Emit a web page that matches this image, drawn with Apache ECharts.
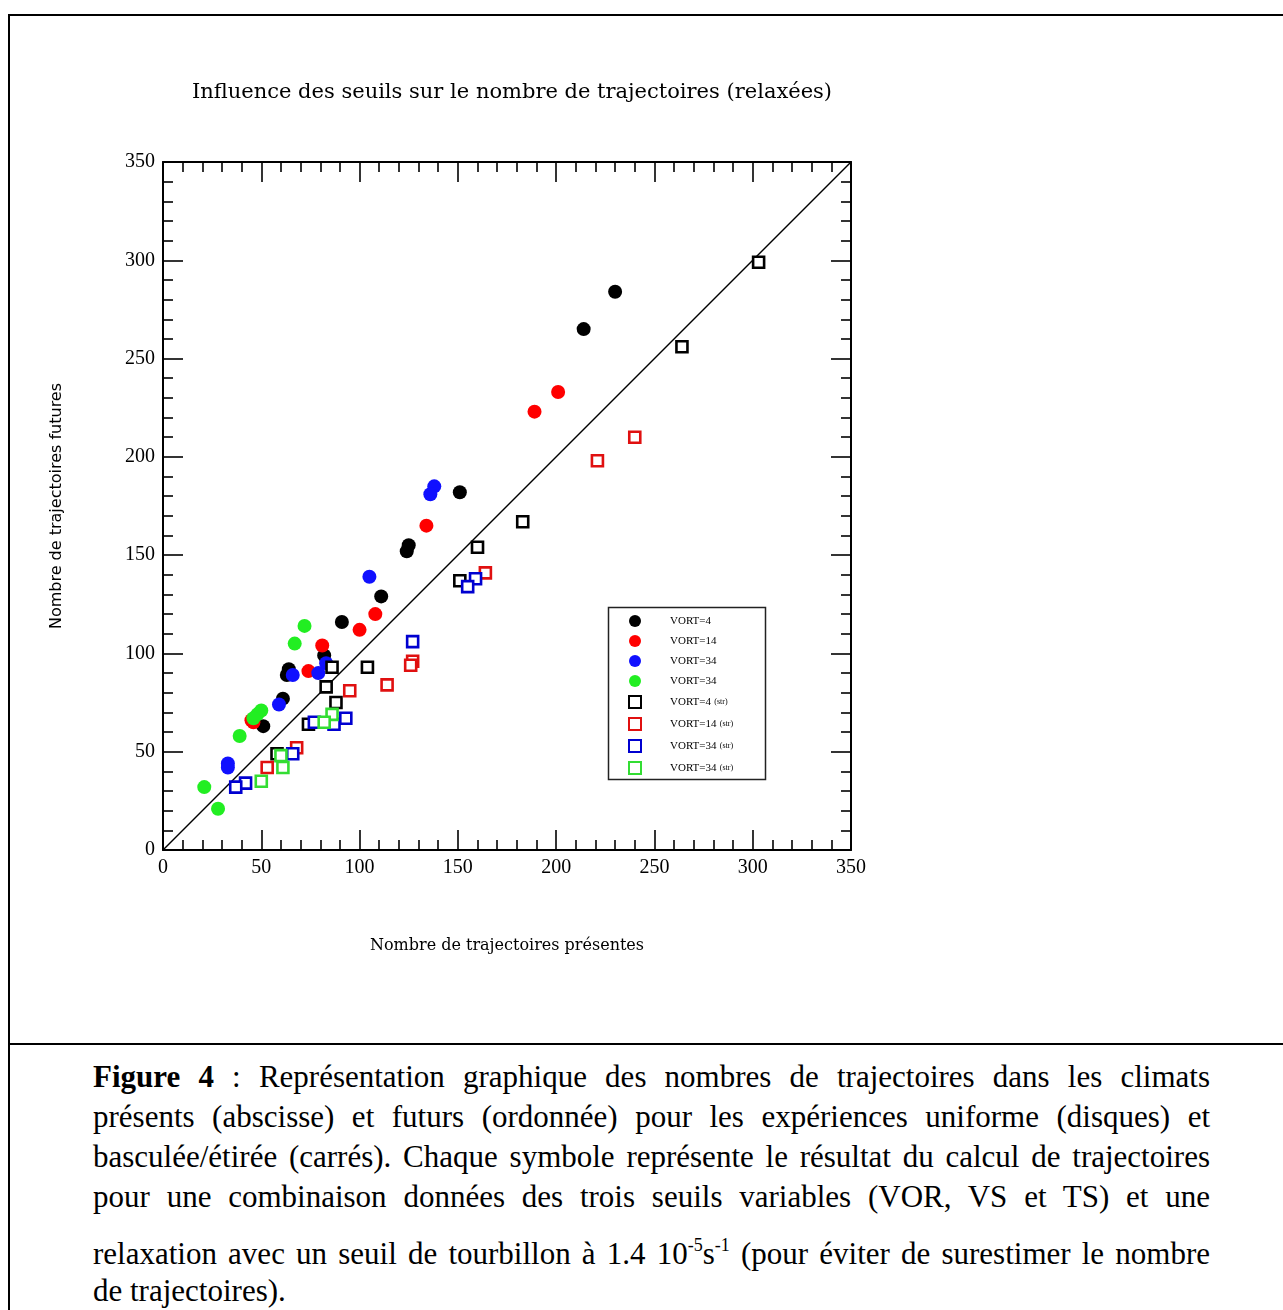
<!DOCTYPE html>
<html>
<head>
<meta charset="utf-8">
<script src="https://cdn.jsdelivr.net/npm/echarts@6/dist/echarts.min.js"></script>
<style>
  html, body { margin: 0; padding: 0; background: #fff; }
  body { width: 1283px; height: 1310px; position: relative; overflow: hidden; }
  #frame { position: absolute; left: 8px; top: 14px; width: 1275px; height: 1296px;
           border-left: 2px solid #000; border-top: 2px solid #000; box-sizing: border-box; }
  #sep { position: absolute; left: 8px; top: 1043px; width: 1275px; height: 2px; background: #000; }
  #chart { position: absolute; left: 0; top: 0; width: 1283px; height: 1040px; }
  .cap { position: absolute; left: 93px; width: 1117px; font-family: "Liberation Serif", "Times New Roman", serif;
         font-size: 31px; line-height: 31px; color: #000; text-align: justify; text-align-last: justify; }
  .cap.last { text-align-last: left; }
  .cap sup { font-size: 18px; line-height: 0; vertical-align: 0; position: relative; top: -13px; }
</style>
</head>
<body>
<div id="frame"></div>
<div id="sep"></div>
<div id="chart"></div>
<div class="cap" style="top:1061px"><b>Figure 4</b> : Représentation graphique des nombres de trajectoires dans les climats</div>
<div class="cap" style="top:1101px">présents (abscisse) et futurs (ordonnée) pour les expériences uniforme (disques) et</div>
<div class="cap" style="top:1141px">basculée/étirée (carrés). Chaque symbole représente le résultat du calcul de trajectoires</div>
<div class="cap" style="top:1181px">pour une combinaison données des trois seuils variables (VOR, VS et TS) et une</div>
<div class="cap" style="top:1238px">relaxation avec un seuil de tourbillon à 1.4 10<sup>-5</sup>s<sup>-1</sup> (pour éviter de surestimer le nombre</div>
<div class="cap last" style="top:1275px">de trajectoires).</div>
<script>
// ---- data (x = present, y = future) ----
const titleText = 'Influence des seuils sur le nombre de trajectoires (relaxées)';
const xAxisName = 'Nombre de trajectoires présentes';
const yAxisName = 'Nombre de trajectoires futures';
const tickValues = [0, 50, 100, 150, 200, 250, 300, 350];

const legendLabels = ['VORT=4', 'VORT=14', 'VORT=34', 'VORT=34',
                      'VORT=4 (str)', 'VORT=14 (str)', 'VORT=34 (str)', 'VORT=34 (str)'];

const vort4 = [[230,284],[214,265],[151,182],[125,155],[124,152],[111,129],[91,116],[82,99],[64,92],[63,89],[61,77],[51,63]];
const vort14 = [[201,233],[189,223],[134,165],[108,120],[100,112],[81,104],[74,91],[46,65],[45,66]];
const vort34b = [[138,185],[136,181],[105,139],[83,95],[79,90],[66,89],[59,74],[33,44],[33,42]];
const vort34g = [[72,114],[67,105],[50,71],[48,69],[46,67],[39,58],[21,32],[28,21]];
const sq4 = [[303,299],[264,256],[183,167],[160,154],[151,137],[104,93],[86,93],[83,83],[88,75],[74,64],[58,49]];
const sq14 = [[240,210],[221,198],[164,141],[127,96],[126,94],[114,84],[95,81],[53,42],[68,52]];
const sq34b = [[127,106],[159,138],[155,134],[93,67],[87,64],[77,65],[42,34],[37,32],[66,49]];
const sq34g = [[60,48],[61,42],[50,35],[86,69],[82,65]];
const diagonal = [[0,0],[350,350]];

const chart = echarts.init(document.getElementById('chart'), null, {renderer: 'canvas'});

const ZW = '\u200b';
const seriesNames = ['VORT=4', 'VORT=14', 'VORT=34', 'VORT=34' + ZW,
                     'VORT=4 (str)', 'VORT=14 (str)', 'VORT=34 (str)', 'VORT=34 (str)' + ZW];
const labelOf = {};
seriesNames.forEach((n, i) => labelOf[n] = legendLabels[i]);

function disc(name, data, color) {
  return { name, type: 'scatter', data, symbol: 'circle', symbolSize: 14,
           itemStyle: { color: color, opacity: 1 }, emphasis: { disabled: true }, z: 3 };
}
function square(name, data, color) {
  return { name, type: 'scatter', data, symbol: 'rect', symbolSize: 11,
           itemStyle: { color: '#ffffff', borderColor: color, borderWidth: 2.6, opacity: 1 },
           emphasis: { disabled: true }, z: 4 };
}

const axisCommon = {
  type: 'value', min: 0, max: 350, interval: 50,
  axisLine: { show: true, onZero: false, lineStyle: { color: '#000', width: 2 } },
  axisTick: { show: true, inside: true, length: 20, lineStyle: { color: '#000', width: 1.6 } },
  minorTick: { show: true, splitNumber: 5, length: 10, lineStyle: { color: '#000', width: 1.6 } },
  splitLine: { show: false }
};
const labelStyle = { color: '#000', fontFamily: 'Liberation Serif', fontSize: 20 };

const option = {
  animation: false,
  backgroundColor: 'transparent',
  title: {
    text: titleText, left: 507, top: 77, textAlign: 'center',
    textStyle: { fontFamily: 'DejaVu Serif', fontWeight: 'normal', fontSize: 21, color: '#000' }
  },
  grid: { left: 163, top: 162, width: 688, height: 688, containLabel: false },
  xAxis: [
    Object.assign({}, axisCommon, {
      position: 'bottom',
      name: xAxisName, nameLocation: 'middle', nameGap: 88,
      nameTextStyle: { fontFamily: 'DejaVu Serif', fontSize: 16, color: '#000' },
      axisLabel: Object.assign({ margin: 8, formatter: v => tickValues.includes(v) ? String(v) : '' }, labelStyle)
    }),
    Object.assign({}, axisCommon, { position: 'top', axisLabel: { show: false } })
  ],
  yAxis: [
    Object.assign({}, axisCommon, {
      position: 'left',
      name: yAxisName, nameLocation: 'middle', nameGap: 98, nameRotate: 90,
      nameTextStyle: { fontFamily: 'DejaVu Sans', fontSize: 16, color: '#000' },
      axisLabel: Object.assign({ margin: 8, formatter: v => tickValues.includes(v) ? String(v) : '' }, labelStyle)
    }),
    Object.assign({}, axisCommon, { position: 'right', axisLabel: { show: false } })
  ],
  legend: {
    show: true, orient: 'vertical', left: 628, top: 605, padding: [10, 0, 0, 0],
    itemWidth: 12, itemHeight: 12, itemGap: 8, selectedMode: false,
    data: seriesNames.map((n, i) => ({ name: n, icon: i < 4 ? 'circle' : 'rect' })),
    formatter: function (name) {
      const lab = labelOf[name];
      const m = lab.match(/^(\S+)(?: (\(str\)))?$/);
      return m[2] ? '{a|' + m[1] + '} {b|' + m[2] + '}' : '{a|' + m[1] + '}';
    },
    textStyle: {
      rich: {
        a: { fontFamily: 'Liberation Serif', fontSize: 11, color: '#000', padding: [0, 0, 0, 24] },
        b: { fontFamily: 'Liberation Serif', fontSize: 8, color: '#000' }
      }
    }
  },
  graphic: [{
    type: 'rect', left: 606, top: 605, z: 100,
    shape: { width: 157, height: 172 },
    style: { fill: 'none', stroke: '#222', lineWidth: 1.5 }
  }],
  series: [
    { name: 'diag', type: 'line', data: diagonal, symbol: 'none', silent: true,
      lineStyle: { color: '#000', width: 1.4 }, z: 2 },
    disc(seriesNames[0], vort4, '#000000'),
    disc(seriesNames[1], vort14, '#ff0000'),
    disc(seriesNames[2], vort34b, '#1010ff'),
    disc(seriesNames[3], vort34g, '#22ee22'),
    square(seriesNames[4], sq4, '#000000'),
    square(seriesNames[5], sq14, '#e01010'),
    square(seriesNames[6], sq34b, '#0000d0'),
    square(seriesNames[7], sq34g, '#33dd33')
  ]
};
chart.setOption(option);
</script>
</body>
</html>
